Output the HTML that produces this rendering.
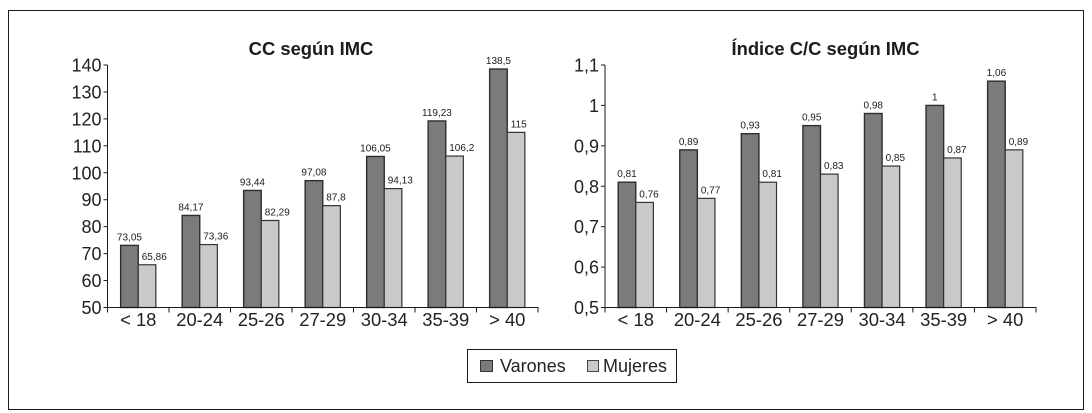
<!DOCTYPE html>
<html lang="es">
<head>
<meta charset="utf-8">
<title>CC e Índice C/C según IMC</title>
<style>
html,body{margin:0;padding:0;background:#fff;width:1092px;height:413px;overflow:hidden}
svg{display:block;font-family:"Liberation Sans",Arial,sans-serif}
</style>
</head>
<body>
<svg id="chart" width="1092" height="413" viewBox="0 0 1092 413" xmlns="http://www.w3.org/2000/svg">
  <rect x="8.5" y="10.5" width="1075" height="399" fill="#fff" stroke="#1a1a1a" stroke-width="1"/>
  <g id="left-chart"></g>
  <g id="right-chart"></g>
  <g>
    <rect x="467.5" y="349.5" width="209" height="33" fill="#fff" stroke="#1a1a1a" stroke-width="1"/>
    <rect x="480.5" y="360.5" width="12" height="11" fill="#7b7b7b" stroke="#333" stroke-width="1"/>
    <text x="500" y="372" font-size="18" fill="#222">Varones</text>
    <rect x="587.5" y="360.5" width="11" height="11" fill="#c9c9c9" stroke="#444" stroke-width="1"/>
    <text x="603" y="372" font-size="18" fill="#222">Mujeres</text>
  </g>
</svg>
<script>
const categories = ['< 18', '20-24', '25-26', '27-29', '30-34', '35-39', '> 40'];

const ccVarones = [73.05, 84.17, 93.44, 97.08, 106.05, 119.23, 138.5];
const ccMujeres = [65.86, 73.36, 82.29, 87.8, 94.13, 106.2, 115];
const ccTicks = [50, 60, 70, 80, 90, 100, 110, 120, 130, 140];

const indiceVarones = [0.81, 0.89, 0.93, 0.95, 0.98, 1, 1.06];
const indiceMujeres = [0.76, 0.77, 0.81, 0.83, 0.85, 0.87, 0.89];
const indiceTicks = [0.5, 0.6, 0.7, 0.8, 0.9, 1, 1.1];

const NS = 'http://www.w3.org/2000/svg';
function comma(v) { return String(v).replace('.', ','); }
function make(parent, tag, attrs, text) {
  const el = document.createElementNS(NS, tag);
  for (const k in attrs) el.setAttribute(k, attrs[k]);
  if (text !== undefined) el.textContent = text;
  parent.appendChild(el);
  return el;
}

function drawChart(cfg) {
  const g = document.getElementById(cfg.id);
  const top = 65, bottom = 307.5;
  const n = categories.length;
  const step = (cfg.right - cfg.left) / n;
  const min = cfg.ticks[0], max = cfg.ticks[cfg.ticks.length - 1];
  const y = v => bottom - (v - min) / (max - min) * (bottom - top);
  const barW = 17.6;

  const title = make(g, 'text', {x: cfg.titleX, y: 55, 'text-anchor': 'middle', 'font-size': 18.4, 'font-weight': 'bold', fill: '#1c1c1c'}, cfg.title);
  
  

  categories.forEach((c, i) => {
    const cx = cfg.left + step * (i + 0.5);
    const va = cfg.a[i];
    const barA = make(g, 'rect', {x: cx - barW, y: y(va), width: barW, height: bottom - y(va), fill: '#7b7b7b', stroke: '#2e2e2e', 'stroke-width': 1.4});
    
    
    const labA = make(g, 'text', {x: cx - barW / 2, y: y(va) - 5, 'text-anchor': 'middle', 'font-size': 10, fill: '#1c1c1c'}, comma(va));
    
    

    const vb = cfg.b[i];
    const barB = make(g, 'rect', {x: cx, y: y(vb), width: barW, height: bottom - y(vb), fill: '#c9c9c9', stroke: '#333', 'stroke-width': 1.2});
    
    
    const labB = make(g, 'text', {x: cx + 3.5, y: y(vb) - 5, 'text-anchor': 'start', 'font-size': 10, fill: '#1c1c1c'}, comma(vb));
    
    

    const cat = make(g, 'text', {x: cx, y: 326, 'text-anchor': 'middle', 'font-size': 18.4, fill: '#222'}, c);
    
    
  });

  const yAxis = make(g, 'line', {x1: cfg.left, x2: cfg.left, y1: top, y2: bottom, stroke: '#1a1a1a', 'stroke-width': 1});
  
  
  const xAxis = make(g, 'line', {x1: cfg.left - 4, x2: cfg.right + 0.5, y1: bottom, y2: bottom, stroke: '#1a1a1a', 'stroke-width': 1});
  
  

  cfg.ticks.forEach(t => {
    const ty = y(t);
    const tick = make(g, 'line', {x1: cfg.left - 4, x2: cfg.left, y1: ty, y2: ty, stroke: '#1a1a1a', 'stroke-width': 1});
    
    
    const lab = make(g, 'text', {x: cfg.left - 6, y: ty + 6.5, 'text-anchor': 'end', 'font-size': 18, fill: '#222'}, comma(t));
    
    
  });
  for (let i = 0; i <= n; i++) {
    const tx = cfg.left + step * i;
    const tick = make(g, 'line', {x1: tx, x2: tx, y1: bottom, y2: bottom + 5, stroke: '#1a1a1a', 'stroke-width': 1});
    
    
  }
}

drawChart({id: 'left-chart', title: 'CC según IMC', titleX: 311, left: 107.5, right: 538, a: ccVarones, b: ccMujeres, ticks: ccTicks});
drawChart({id: 'right-chart', title: 'Índice C/C según IMC', titleX: 825.5, left: 605, right: 1036, a: indiceVarones, b: indiceMujeres, ticks: indiceTicks});
</script>
</body>
</html>
